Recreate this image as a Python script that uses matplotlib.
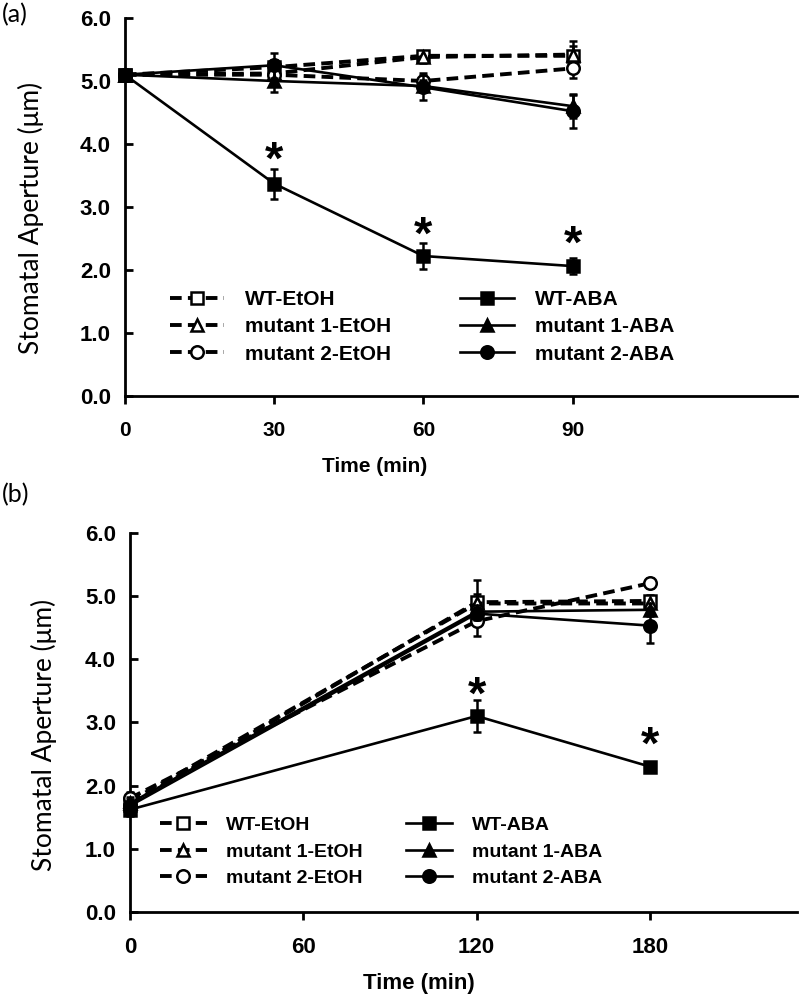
import matplotlib
matplotlib.use("Agg")
import matplotlib.pyplot as plt
from matplotlib.lines import Line2D
from matplotlib.ticker import FormatStrFormatter

# panel (a): ABA-induced closure
time_a = [0, 30, 60, 90]
wt_etoh_a = [5.10, 5.22, 5.40, 5.40]
wt_etoh_a_err = [0.05, 0.12, 0.08, 0.15]
m1_etoh_a = [5.10, 5.12, 5.38, 5.42]
m1_etoh_a_err = [0.05, 0.10, 0.10, 0.22]
m2_etoh_a = [5.10, 5.10, 5.00, 5.20]
m2_etoh_a_err = [0.05, 0.10, 0.12, 0.15]
wt_aba_a = [5.10, 3.37, 2.22, 2.06]
wt_aba_a_err = [0.08, 0.24, 0.20, 0.13]
m1_aba_a = [5.10, 5.00, 4.92, 4.60]
m1_aba_a_err = [0.05, 0.18, 0.10, 0.18]
m2_aba_a = [5.10, 5.25, 4.90, 4.52]
m2_aba_a_err = [0.05, 0.20, 0.20, 0.27]
star_x_a = [30, 60, 90]
star_y_a = [3.86, 2.66, 2.52]

# panel (b): ABA inhibition of opening
time_b = [0, 120, 180]
wt_etoh_b = [1.70, 4.90, 4.92]
wt_etoh_b_err = [0.10, 0.35, 0.10]
m1_etoh_b = [1.75, 4.88, 4.88]
m1_etoh_b_err = [0.10, 0.15, 0.10]
m2_etoh_b = [1.80, 4.60, 5.20]
m2_etoh_b_err = [0.10, 0.23, 0.08]
wt_aba_b = [1.62, 3.10, 2.30]
wt_aba_b_err = [0.10, 0.26, 0.05]
m1_aba_b = [1.72, 4.75, 4.78]
m1_aba_b_err = [0.10, 0.10, 0.10]
m2_aba_b = [1.68, 4.72, 4.53]
m2_aba_b_err = [0.10, 0.10, 0.28]
star_x_b = [120, 180]
star_y_b = [3.54, 2.75]

labels = ["WT-EtOH", "mutant 1-EtOH", "mutant 2-EtOH",
          "WT-ABA", "mutant 1-ABA", "mutant 2-ABA"]
markers = ["s", "^", "o", "s", "^", "o"]

SANS = ["Liberation Sans", "DejaVu Sans"]
DASH = (0, (3.0, 1.6))
STAR_FS = 34


def style(i):
    etoh = i < 3
    return dict(color="black",
                linestyle=DASH if etoh else "-",
                linewidth=2.8 if etoh else 1.9,
                marker=markers[i], markersize=9 if markers[i] != "^" else 8,
                markerfacecolor="white" if etoh else "black",
                markeredgecolor="black", markeredgewidth=1.8)


def draw_panel(ax, t, series, errs, star_x, star_y, xlim, xticks, p):
    for i, (y, e) in enumerate(zip(series, errs)):
        h = ax.errorbar(t, y, yerr=e, elinewidth=1.8, capsize=3, capthick=1.8,
                        clip_on=False, zorder=3 if i < 3 else 4, **style(i))
        for art in h.lines[1] + h.lines[2]:
            art.set_clip_on(False)
    for x, y in zip(star_x, star_y):
        ax.annotate("*", (x, y), xytext=(0, -0.44 * STAR_FS), textcoords="offset points",
                    ha="center", va="baseline", fontsize=STAR_FS,
                    family=SANS, weight="bold")

    ax.set_xlim(*xlim)
    ax.set_ylim(0, 6)
    ax.set_xticks(xticks)
    ax.set_yticks([0, 1, 2, 3, 4, 5, 6])
    ax.yaxis.set_major_formatter(FormatStrFormatter("%.1f"))
    for s in ["top", "right"]:
        ax.spines[s].set_visible(False)
    for s in ["left", "bottom"]:
        ax.spines[s].set_linewidth(2)
    ax.tick_params(axis="y", direction="in", length=6, width=2, pad=10)
    ax.tick_params(axis="x", direction="out", length=6, width=2, pad=p["xpad"])
    for lab in ax.get_yticklabels():
        lab.set_fontfamily(SANS)
        lab.set_fontweight("bold")
        lab.set_fontsize(16)
    for lab in ax.get_xticklabels():
        lab.set_fontfamily(SANS)
        lab.set_fontweight("bold")
        lab.set_fontsize(p["xticksize"])
    ax.set_xlabel("Time (min)", fontsize=p["xlabsize"], family=SANS, weight="bold")
    ax.xaxis.set_label_coords(*p["xlabpos"])
    ax.set_ylabel("Stomatal Aperture (\u03bcm)", fontsize=19, family="Lato")
    ax.yaxis.set_label_coords(*p["ylabpos"])

    handles = [Line2D([], [], **style(i)) for i in range(6)]
    ax.legend(handles=handles, labels=labels, ncol=2, loc="lower left",
              bbox_to_anchor=p["leg"], frameon=False,
              prop=dict(family=SANS, weight="bold", size=p["legsize"]),
              handlelength=p["hlen"], handletextpad=1.0, columnspacing=p["colsp"],
              labelspacing=p["labsp"], borderpad=0, borderaxespad=0)


fig = plt.figure(figsize=(8, 10.02), dpi=100)
ax_a = fig.add_axes([0.156, 0.605, 0.84, 0.377])
ax_b = fig.add_axes([0.1625, 0.0898, 0.834, 0.3786])

draw_panel(ax_a, time_a,
           [wt_etoh_a, m1_etoh_a, m2_etoh_a, wt_aba_a, m1_aba_a, m2_aba_a],
           [wt_etoh_a_err, m1_etoh_a_err, m2_etoh_a_err, wt_aba_a_err, m1_aba_a_err, m2_aba_a_err],
           star_x_a, star_y_a, (0, 135), [0, 30, 60, 90],
           dict(xpad=12, xticksize=15, xlabsize=15, xlabpos=(0.372, -0.162),
                ylabpos=(-0.12, 0.47), leg=(0.067, 0.085), legsize=15,
                hlen=2.6, colsp=3.3, labsp=0.4))
draw_panel(ax_b, time_b,
           [wt_etoh_b, m1_etoh_b, m2_etoh_b, wt_aba_b, m1_aba_b, m2_aba_b],
           [wt_etoh_b_err, m1_etoh_b_err, m2_etoh_b_err, wt_aba_b_err, m1_aba_b_err, m2_aba_b_err],
           star_x_b, star_y_b, (0, 231), [0, 60, 120, 180],
           dict(xpad=12, xticksize=16, xlabsize=16, xlabpos=(0.433, -0.162),
                ylabpos=(-0.11, 0.467), leg=(0.045, 0.066), legsize=14,
                hlen=2.4, colsp=2.2, labsp=0.45))

fig.text(0.002, 0.997, "(a)", fontsize=18, family="Lato", va="top", ha="left")
fig.text(0.002, 0.518, "(b)", fontsize=18, family="Lato", va="top", ha="left")

fig.savefig("out.png", dpi=100)
